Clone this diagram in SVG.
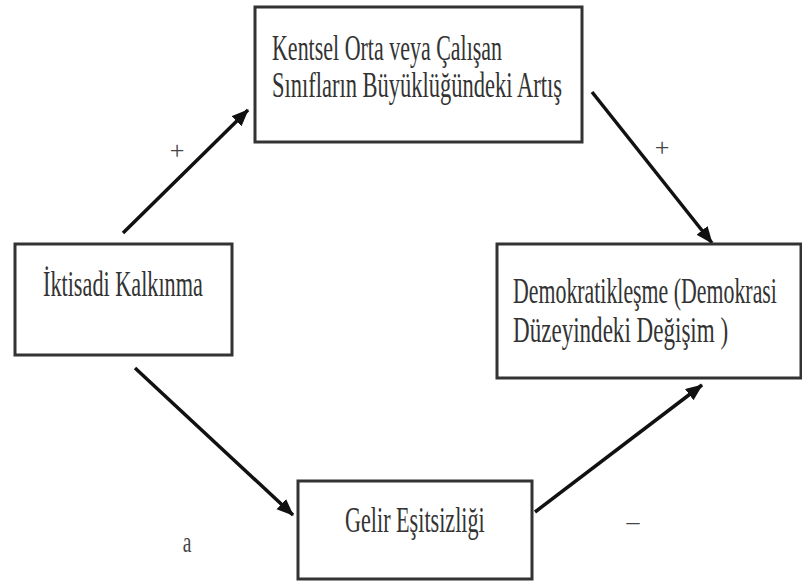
<svg xmlns="http://www.w3.org/2000/svg" width="802" height="587" viewBox="0 0 802 587">
<style>
.box{fill:#fff;stroke:#333;stroke-width:3}
.t{font-family:"Liberation Serif","Times New Roman",serif;font-size:36px;fill:#333}
.lbl{font-family:"Liberation Serif","Times New Roman",serif;font-size:26px;fill:#444}
.c{stroke:#111;stroke-width:3.5;fill:none;marker-end:url(#ah)}
</style>
<defs>
<marker id="ah" markerUnits="userSpaceOnUse" markerWidth="18" markerHeight="16" refX="16" refY="7" orient="auto">
<path d="M0,0 L17,7 L0,14 Z" fill="#111"/>
</marker>
</defs>
<rect width="802" height="587" fill="#fff"/>
<g id="connectors">
<line class="c" x1="123" y1="233" x2="248" y2="110"/>
<line class="c" x1="592" y1="92" x2="712" y2="243"/>
<line class="c" x1="135" y1="368" x2="293" y2="515"/>
<line class="c" x1="535" y1="512" x2="702" y2="385"/>
<text class="lbl" x="177" y="159" text-anchor="middle">+</text>
<text class="lbl" x="662" y="156" text-anchor="middle">+</text>
<text class="lbl" transform="translate(187,552) scale(0.75,1.15)" text-anchor="middle">a</text>
<text class="lbl" x="633" y="530" text-anchor="middle">–</text>
</g>
<g id="node-top">
<rect class="box" x="255" y="7" width="327" height="135"/>
<text class="t" transform="translate(272,60) scale(0.65,1)" textLength="354" lengthAdjust="spacingAndGlyphs">Kentsel Orta veya Çalışan</text>
<text class="t" transform="translate(272,97) scale(0.65,1)" textLength="446" lengthAdjust="spacingAndGlyphs">Sınıfların  Büyüklüğündeki Artış</text>
</g>
<g id="node-left">
<rect class="box" x="15" y="244" width="217" height="111"/>
<text class="t" transform="translate(43,296) scale(0.65,1)" textLength="246" lengthAdjust="spacingAndGlyphs">İktisadi Kalkınma</text>
</g>
<g id="node-right">
<rect class="box" x="497" y="244" width="304" height="134"/>
<text class="t" transform="translate(513,303) scale(0.65,1)" textLength="406" lengthAdjust="spacingAndGlyphs">Demokratikleşme (Demokrasi</text>
<text class="t" transform="translate(513,342) scale(0.65,1)" textLength="331" lengthAdjust="spacingAndGlyphs">Düzeyindeki  Değişim )</text>
</g>
<g id="node-bottom">
<rect class="box" x="298" y="481" width="234" height="98"/>
<text class="t" transform="translate(345,532) scale(0.65,1)" textLength="215" lengthAdjust="spacingAndGlyphs">Gelir Eşitsizliği</text>
</g>
</svg>
